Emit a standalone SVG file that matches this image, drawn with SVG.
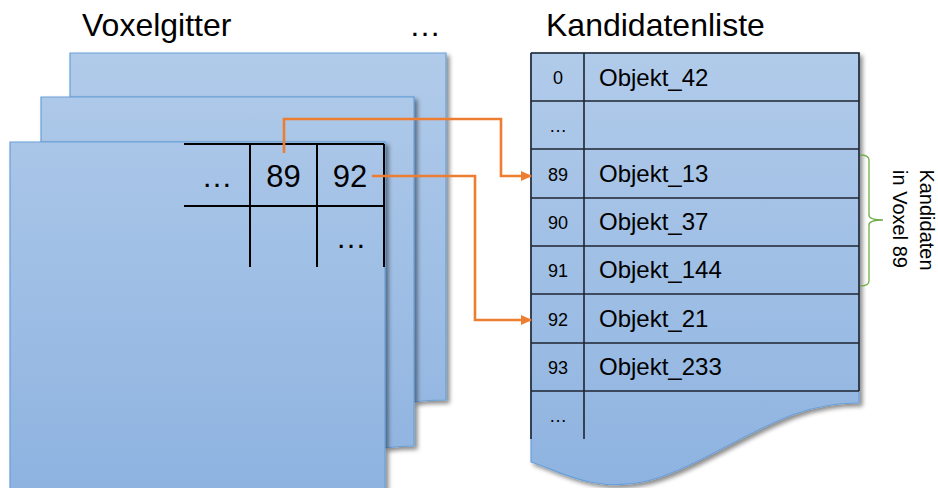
<svg xmlns="http://www.w3.org/2000/svg" width="938" height="488" viewBox="0 0 938 488">
  <defs>
    <linearGradient id="blueGrad" gradientUnits="userSpaceOnUse" x1="0" y1="50" x2="0" y2="488">
      <stop offset="0" stop-color="#B1CBEA"/>
      <stop offset="1" stop-color="#8EB3E0"/>
    </linearGradient>
    <filter id="shadow" x="-10%" y="-10%" width="130%" height="130%">
      <feDropShadow dx="3" dy="3" stdDeviation="2" flood-color="#000" flood-opacity="0.45"/>
    </filter>
    <marker id="arrow" viewBox="0 0 11 10" refX="10" refY="5" markerWidth="11" markerHeight="10" markerUnits="userSpaceOnUse" orient="auto">
      <path d="M0,0 L11,5 L0,10 Z" fill="#ED7D31"/>
    </marker>
  </defs>
  <style>
    .sheet { fill: url(#blueGrad); stroke: #6A9FD8; stroke-width: 1.2; filter: url(#shadow); }
    .grid { stroke: #000; stroke-width: 2; fill: none; }
    .tbl { stroke: #1F2530; stroke-width: 1.6; fill: none; }
    .title { font-family: "Liberation Sans", Arial, sans-serif; font-size: 32px; fill: #000; }
    .cell { font-family: "Liberation Sans", Arial, sans-serif; font-size: 31px; fill: #000; text-anchor: middle; }
    .idx { font-family: "Liberation Sans", Arial, sans-serif; font-size: 18px; fill: #000; text-anchor: middle; }
    .obj { font-family: "Liberation Sans", Arial, sans-serif; font-size: 24px; fill: #000; }
    .side { font-family: "Liberation Sans", Arial, sans-serif; font-size: 20px; fill: #000; text-anchor: middle; }
    .conn { stroke: #ED7D31; stroke-width: 2.6; fill: none; }
  </style>

  <!-- Titles -->
  <g id="titles">
    <text class="title" x="82" y="36">Voxelgitter</text>
    <text class="title" x="409" y="36">…</text>
    <text class="title" x="546" y="36">Kandidatenliste</text>
  </g>

  <!-- Voxel grid stack -->
  <g id="voxelgitter">
    <path class="sheet" d="M70,53 H446 V400 C430,400 420,401 414,402 V97 H70 Z"/>
    <path class="sheet" d="M41,97 H414 V446 C400,446 392,447 385,448 V142 H41 Z"/>
    <path class="sheet" d="M10,142 H385 V500 H10 Z"/>
    <g id="grid">
      <path class="grid" d="M184,144 H384 M184,206 H384 M250,144 V267 M317,144 V267 M384,144 V267"/>
      <text class="cell" x="217" y="187" font-size="21">…</text>
      <text class="cell" x="283.5" y="187">89</text>
      <text class="cell" x="350" y="187">92</text>
      <text class="cell" x="351" y="248" font-size="21">…</text>
    </g>
  </g>

  <!-- Candidate list -->
  <g id="kandidatenliste">
    <path class="sheet" d="M531,53 H859 V403 C800,402 760,430 700,460 C660,480 630,490 590,482 C565,477 550,468 531,462 Z"/>
    <path class="tbl" d="M531,53 H859 V391 M531,53 V439 M584,53 V439 M531,101 H859 M531,149 H859 M531,198 H859 M531,246 H859 M531,294 H859 M531,343 H859 M531,391 H859"/>
    <g id="rows">
      <text class="idx" x="558" y="84">0</text>
      <text class="obj" x="599" y="86">Objekt_42</text>
      <text class="idx" x="558" y="132">…</text>
      <text class="idx" x="558" y="181">89</text>
      <text class="obj" x="599" y="182">Objekt_13</text>
      <text class="idx" x="558" y="229">90</text>
      <text class="obj" x="599" y="230">Objekt_37</text>
      <text class="idx" x="558" y="277">91</text>
      <text class="obj" x="599" y="278">Objekt_144</text>
      <text class="idx" x="558" y="326">92</text>
      <text class="obj" x="599" y="327">Objekt_21</text>
      <text class="idx" x="558" y="374">93</text>
      <text class="obj" x="599" y="375">Objekt_233</text>
      <text class="idx" x="558" y="422">…</text>
    </g>
  </g>

  <!-- Brace and label -->
  <g id="brace">
    <path d="M860,155 Q869,155 869,160 V215 Q869,220 883,220 Q869,220 869,225 V281 Q869,286 860,286" fill="none" stroke="#70AD47" stroke-width="1.3"/>
    <text class="side" transform="translate(920,220) rotate(90)" x="0" y="0">Kandidaten</text>
    <text class="side" transform="translate(893,219) rotate(90)" x="0" y="0">in Voxel 89</text>
  </g>

  <!-- Connectors -->
  <g id="connectors">
    <path class="conn" d="M284,153 V119 H501 V176 H531" marker-end="url(#arrow)"/>
    <path class="conn" d="M372,176 H475 V320 H531" marker-end="url(#arrow)"/>
  </g>
</svg>
